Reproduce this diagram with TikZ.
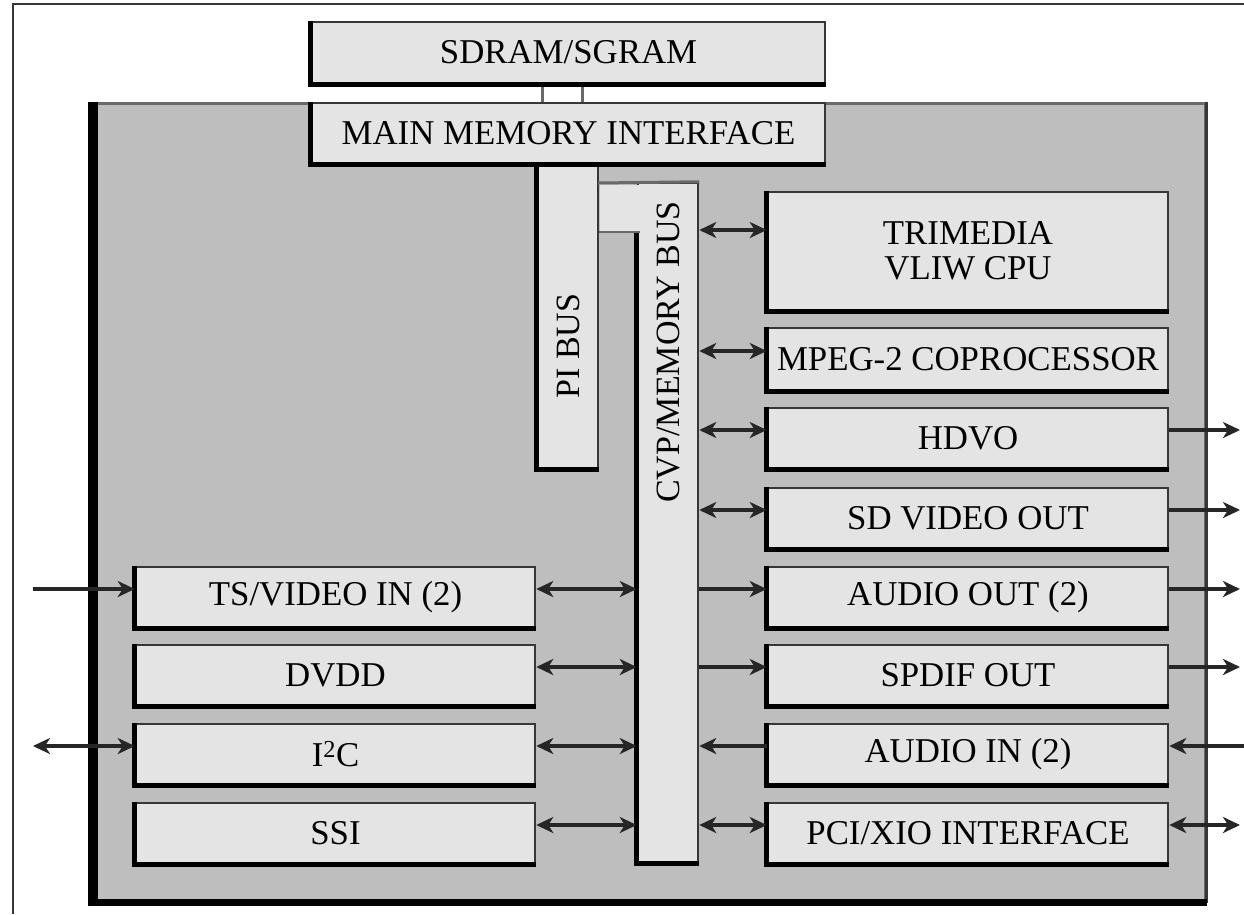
\documentclass[tikz,border=0pt]{standalone}
\usepackage{fontspec}
\setmainfont{Liberation Serif}
\usepackage{tikz}
\usetikzlibrary{arrows.meta}
\definecolor{boxfill}{RGB}{228,228,228}
\definecolor{socfill}{RGB}{190,190,190}
\definecolor{rim}{RGB}{55,55,55}
\definecolor{softrim}{RGB}{105,105,105}

\tikzset{
  block/.style={draw=rim, line width=2.5pt, fill=boxfill, inner sep=0pt,
    minimum width=400pt, minimum height=60pt, align=center,
    font=\fontsize{34.8}{35}\selectfont},
  buslabel/.style={rotate=90, inner sep=0pt, font=\fontsize{34}{34}\selectfont},
  bevel/.style={draw=black, line width=5pt},
  link/.style={draw=black!85, line width=3.5pt},
}

\begin{document}
\begin{tikzpicture}[x=1pt, y=-1pt, >={Stealth[length=17pt,width=16pt,inset=5pt]}]
    \useasboundingbox (0,0) rectangle (1244,914);

    % Page frame
    \draw[rim, line width=2.5pt] (13,914) -- (13,4) -- (1244,4);

    % Chip body
    \node[draw=softrim, line width=3pt, fill=socfill, minimum width=1111pt, minimum height=798pt] (soc) at (649.5,502) {};
    \draw[rim, line width=2.5pt] (soc.north east) -- (soc.south east);
    \draw[black, line width=10pt] (soc.north west) -- (soc.south west);
    \draw[black, line width=7pt] ([xshift=-5pt]soc.south west) -- (soc.south east);

    % Buses
    \node[block, minimum width=60pt, minimum height=305pt] (pibus) at (568,315.5) {};
    \node[block, minimum width=60pt, minimum height=679pt] (cvp) at (668,522.5) {};
    \draw[bevel] (pibus.north west) -- (pibus.south west) -- (pibus.south east);
    \draw[bevel] (cvp.north west |- 0,232) -- (cvp.south west) -- (cvp.south east);
    \fill[boxfill] (599.5,184.5) rectangle (641,230.5);
    \draw[softrim, line width=3pt] (598,183) -- (cvp.north east);
    \draw[softrim, line width=2.5pt] (599,232) -- (640,232);
    \node[buslabel] (pilabel) at (568,346) {PI BUS};
    \node[buslabel] (cvplabel) at (668,352) {CVP/MEMORY BUS};

    % Memory
    \node[block, minimum width=513pt, minimum height=61pt] (sdram) at (568.5,52.5) {SDRAM/SGRAM};
    \node[block, minimum width=513pt] (mmi) at (568.5,133) {MAIN MEMORY INTERFACE};
    \draw[softrim, line width=3pt] ([xshift=-26.5pt]sdram.south) -- ([xshift=-26.5pt]mmi.north);
    \draw[softrim, line width=3pt] ([xshift=13.5pt]sdram.south) -- ([xshift=13.5pt]mmi.north);

    % Units on the right
    \node[block, minimum height=118pt] (cpu) at (968,251) {TRIMEDIA\\VLIW CPU};
    \node[block, minimum height=62pt] (mpeg) at (968,359) {MPEG-2 COPROCESSOR};
    \node[block] (hdvo) at (968,438) {HDVO};
    \node[block] (sdout) at (968,518) {SD VIDEO OUT};
    \node[block] (aout) at (968,597) {AUDIO OUT (2)};
    \node[block] (spdif) at (968,675) {SPDIF OUT};
    \node[block] (ain) at (968,754) {AUDIO IN (2)};
    \node[block] (pci) at (968,833) {PCI/XIO INTERFACE};

    % Units on the left
    \node[block, minimum width=399pt] (tsin) at (335.5,597) {TS/VIDEO IN (2)};
    \node[block, minimum width=399pt] (dvdd) at (335.5,675) {DVDD};
    \node[block, minimum width=399pt] (iic) at (335.5,754) {I\textsuperscript{2}C};
    \node[block, minimum width=399pt] (ssi) at (335.5,833) {SSI};

    \foreach \n in {sdram,mmi,cpu,mpeg,hdvo,sdout,aout,spdif,ain,pci,tsin,dvdd,iic,ssi}
        \draw[bevel] (\n.north west) -- (\n.south west) -- (\n.south east);

    % Bus connections
    \draw[link, <->] ([yshift=21pt]cpu.west -| cvp.east) -- ([yshift=21pt]cpu.west);
    \foreach \n in {mpeg,hdvo,sdout,pci}
        \draw[link, <->] ([yshift=8pt]\n.west -| cvp.east) -- ([yshift=8pt]\n.west);
    \foreach \n in {aout,spdif}
        \draw[link, ->] ([yshift=8pt]\n.west -| cvp.east) -- ([yshift=8pt]\n.west);
    \draw[link, <-] ([yshift=8pt]ain.west -| cvp.east) -- ([yshift=8pt]ain.west);
    \foreach \n in {tsin,dvdd,iic,ssi}
        \draw[link, <->] ([yshift=8pt]\n.east) -- ([yshift=8pt]\n.east -| cvp.west);

    % Pins
    \coordinate (pinW) at (33,0);
    \coordinate (pinE) at (1240,0);
    \coordinate (edgeE) at (1244,0);
    \draw[link, ->] ([yshift=8pt]tsin.west -| pinW) -- ([yshift=8pt]tsin.west);
    \draw[link, <->] ([yshift=8pt]iic.west -| pinW) -- ([yshift=8pt]iic.west);
    \foreach \n in {hdvo,sdout,aout,spdif}
        \draw[link, ->] ([yshift=8pt]\n.east) -- ([yshift=8pt]\n.east -| pinE);
    \draw[link, <-] ([yshift=8pt]ain.east) -- ([yshift=8pt]ain.east -| edgeE);
    \draw[link, <->] ([yshift=8pt]pci.east) -- ([yshift=8pt]pci.east -| pinE);
\end{tikzpicture}
\end{document}
